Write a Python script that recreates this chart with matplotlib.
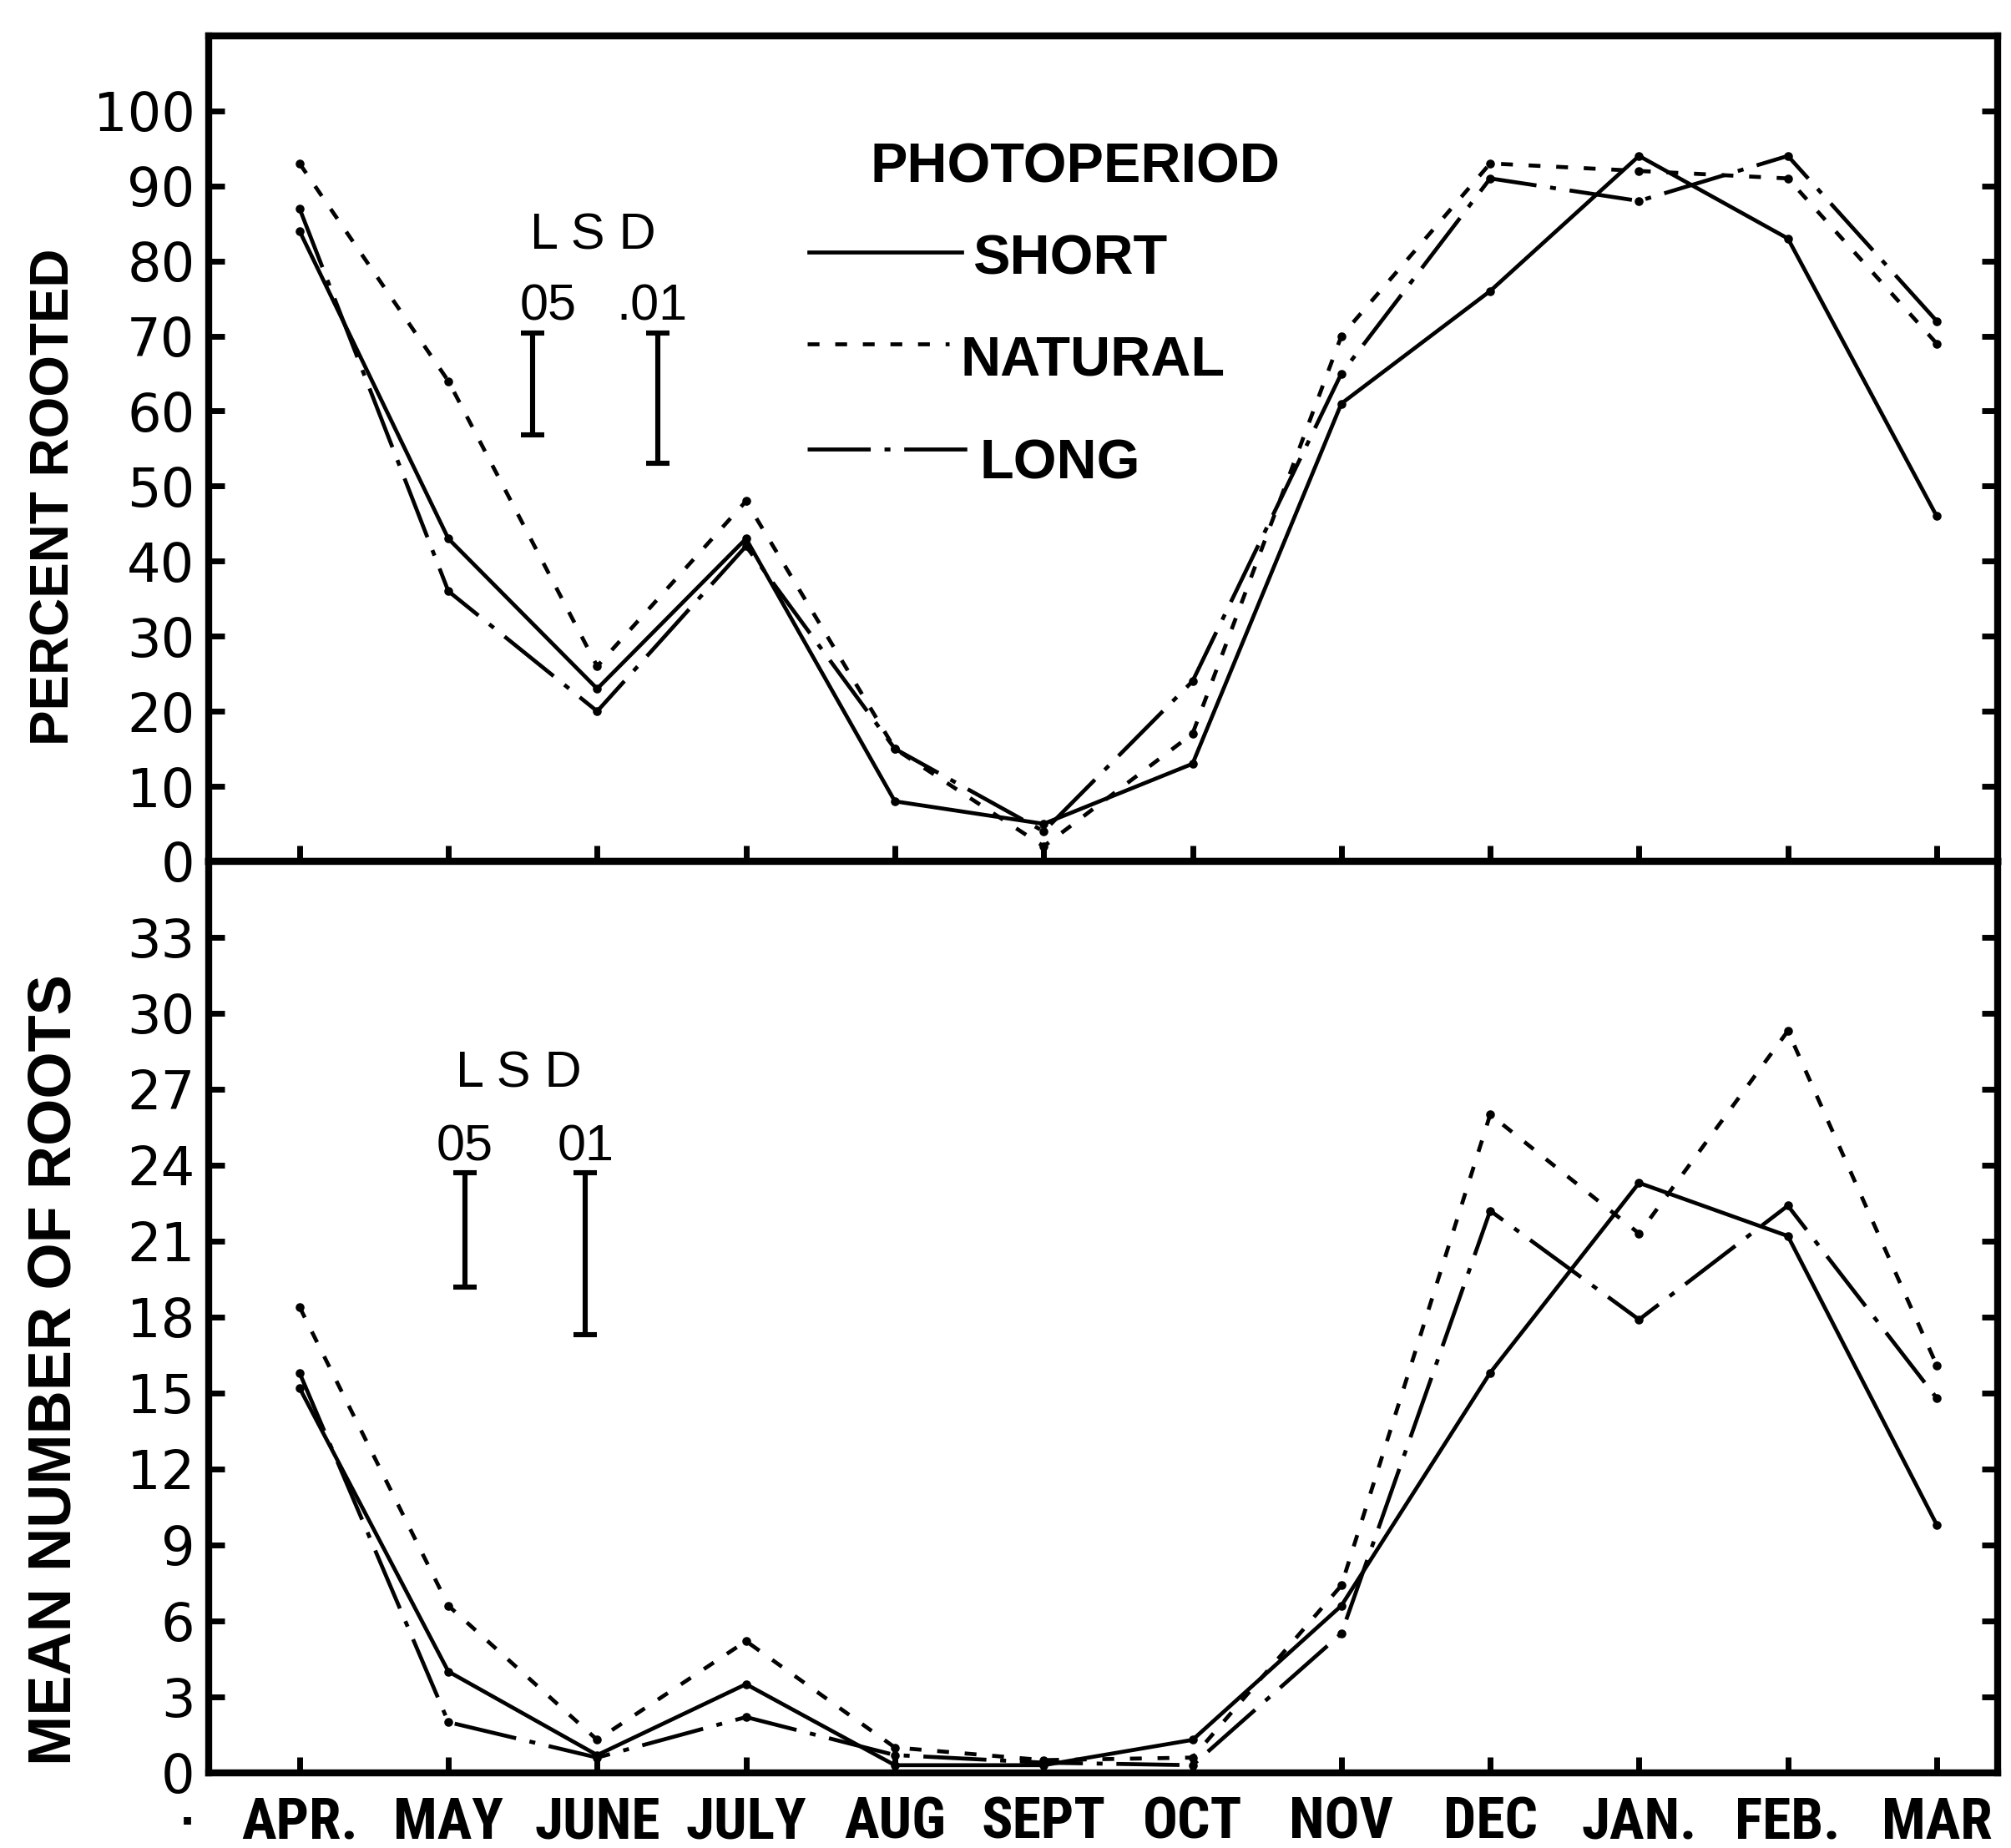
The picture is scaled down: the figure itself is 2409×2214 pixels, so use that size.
import matplotlib.pyplot as plt
from matplotlib import font_manager

# pick a condensed face for the month names if one is installed
names = {f.name for f in font_manager.fontManager.ttflist}
def pick(*cands):
    for c in cands:
        if c in names:
            return c
    return "DejaVu Sans"

narrow = pick("Liberation Sans Narrow", "DejaVu Sans Condensed", "Roboto Condensed", "Liberation Sans")
sans = pick("Liberation Sans", "DejaVu Sans")

months = ["APR.", "MAY", "JUNE", "JULY", "AUG", "SEPT", "OCT", "NOV", "DEC", "JAN.", "FEB.", "MAR"]

# percent rooted
rooted_short   = [84, 43, 23, 43, 8, 5, 13, 61, 76, 94, 83, 46]
rooted_natural = [93, 64, 26, 48, 15, 2, 17, 70, 93, 92, 91, 69]
rooted_long    = [87, 36, 20, 42, 15, 4, 24, 65, 91, 88, 94, 72]

# mean number of roots
roots_short   = [15.2, 4.0, 0.7, 3.5, 0.3, 0.3, 1.3, 6.6, 15.8, 23.3, 21.2, 9.8]
roots_natural = [18.4, 6.6, 1.3, 5.2, 1.0, 0.5, 0.6, 7.4, 26.0, 21.3, 29.3, 16.1]
roots_long    = [15.8, 2.0, 0.6, 2.2, 0.7, 0.4, 0.3, 5.5, 22.2, 17.9, 22.4, 14.8]

# LSD bars (top, bottom of each bar)
lsd_rooted_05 = (70.4, 56.8)
lsd_rooted_01 = (70.4, 53.0)
lsd_roots_05 = (23.7, 19.2)
lsd_roots_01 = (23.7, 17.3)

x = list(range(len(months)))

styles = {
    "short": dict(ls="-"),
    "natural": dict(ls=(0, (3, 4))),
    "long": dict(ls=(0, (16, 3.5, 1.5, 3.5))),
}
lw = 1.7

fig = plt.figure(figsize=(12.045, 11.07), dpi=200)
ax1 = fig.add_axes([0.1038, 0.5339, 0.8896, 0.4467])
ax2 = fig.add_axes([0.1038, 0.0407, 0.8896, 0.4932])

for ax, s, n, l in [(ax1, rooted_short, rooted_natural, rooted_long),
                    (ax2, roots_short, roots_natural, roots_long)]:
    ax.plot(x, s, color="black", lw=lw, marker="o", ms=2.8, **styles["short"])
    ax.plot(x, n, color="black", lw=lw, marker="o", ms=2.8, **styles["natural"])
    ax.plot(x, l, color="black", lw=lw, marker="o", ms=2.8, **styles["long"])
    ax.set_xlim(-0.61, 11.41)
    ax.set_xticks(x)
    for sp in ax.spines.values():
        sp.set_linewidth(3)
    ax.tick_params(direction="in", length=7, width=2.5, pad=6, labelsize=23,
                   left=True, right=True, top=False, bottom=True)
    for t in ax.get_yticklabels():
        t.set_fontfamily("DejaVu Sans")

ax1.set_ylim(0, 110)
ax1.set_yticks(range(0, 101, 10))
ax1.tick_params(axis="x", labelbottom=False)

ax2.set_ylim(0, 36)
ax2.set_yticks(range(0, 34, 3))
ax2.set_xticklabels(months, fontfamily=narrow, fontweight="bold", fontsize=25)
ax2.tick_params(axis="x", pad=10)

fig.text(0.027, 0.731, "PERCENT ROOTED", rotation=90, ha="center", va="center",
         fontsize=23, fontweight="bold", fontfamily=sans)
fig.text(0.027, 0.259, "MEAN NUMBER OF ROOTS", rotation=90, ha="center", va="center",
         fontsize=26, fontweight="bold", fontfamily=sans)
fig.text(0.093, 0.013, "·", ha="center", va="center", fontsize=18, fontweight="bold")

# LSD bars
def lsd(ax, xpos, bar):
    top, bot = bar
    ax.errorbar([xpos], [(top + bot) / 2], yerr=[(top - bot) / 2], fmt="none",
                ecolor="black", elinewidth=2.2, capsize=5, capthick=2.2)

lsd(ax1, 1.565, lsd_rooted_05)
lsd(ax1, 2.41, lsd_rooted_01)
ax1.text(1.97, 83.3, "L S D", ha="center", va="center", fontsize=22, fontfamily=sans)
ax1.text(1.67, 73.8, "05", ha="center", va="center", fontsize=22, fontfamily=sans)
ax1.text(2.37, 73.8, ".01", ha="center", va="center", fontsize=22, fontfamily=sans)

lsd(ax2, 1.11, lsd_roots_05)
lsd(ax2, 1.92, lsd_roots_01)
ax2.text(1.47, 27.6, "L S D", ha="center", va="center", fontsize=22, fontfamily=sans)
ax2.text(1.11, 24.7, "05", ha="center", va="center", fontsize=22, fontfamily=sans)
ax2.text(1.92, 24.7, "01", ha="center", va="center", fontsize=22, fontfamily=sans)

# legend drawn by hand
tr = ax1.transAxes
ax1.text(0.370, 0.840, "PHOTOPERIOD", transform=tr, ha="left", va="center",
         fontsize=24, fontweight="bold", fontfamily=sans)
legend_rows = [("short", "SHORT", 0.3355, 0.421, 0.738, 0.728),
               ("natural", "NATURAL", 0.3346, 0.414, 0.627, 0.606),
               ("long", "LONG", 0.3346, 0.425, 0.4995, 0.481)]
for key, label, x0, x1, yy, ty in legend_rows:
    ax1.plot([x0, x1], [yy, yy], transform=tr, color="black", lw=lw, **styles[key])
    ax1.text(x1 + 0.006, ty, label, transform=tr, ha="left", va="center",
             fontsize=24, fontweight="bold", fontfamily=sans)

fig.savefig("out.png", dpi=200)
